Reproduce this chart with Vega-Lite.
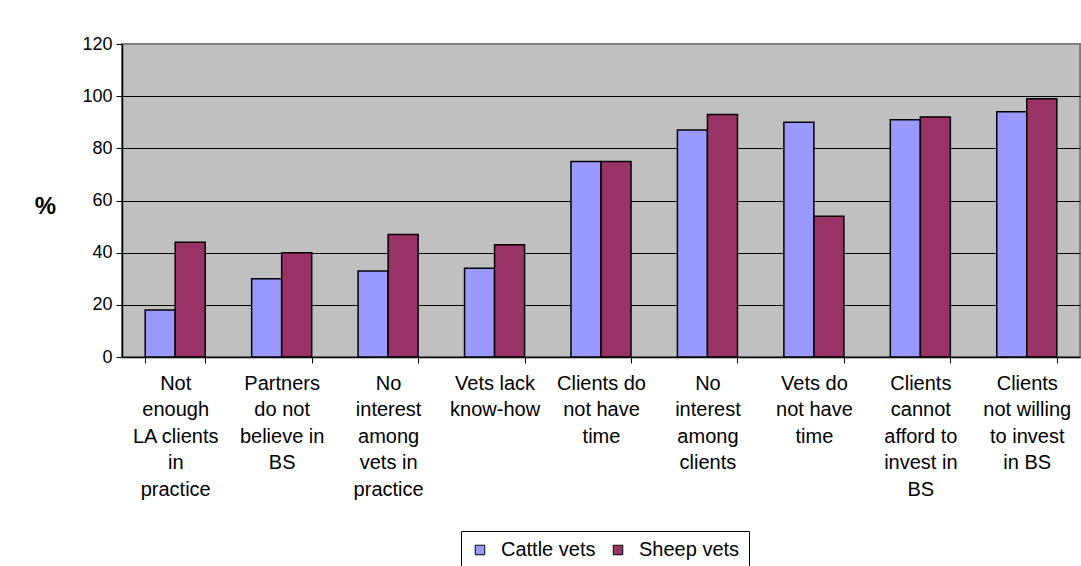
{
  "$schema": "https://vega.github.io/schema/vega-lite/v6.json",
  "width": 958,
  "height": 313,
  "autosize": {"type": "none"},
  "padding": {"left": 122, "top": 44, "right": 1, "bottom": 209},
  "background": "white",
  "data": {
    "values": [
      {"reason": "Not|enough|LA clients|in|practice", "group": "Cattle vets", "pct": 18},
      {"reason": "Not|enough|LA clients|in|practice", "group": "Sheep vets", "pct": 44},
      {"reason": "Partners|do not|believe in|BS", "group": "Cattle vets", "pct": 30},
      {"reason": "Partners|do not|believe in|BS", "group": "Sheep vets", "pct": 40},
      {"reason": "No|interest|among|vets in|practice", "group": "Cattle vets", "pct": 33},
      {"reason": "No|interest|among|vets in|practice", "group": "Sheep vets", "pct": 47},
      {"reason": "Vets lack|know-how", "group": "Cattle vets", "pct": 34},
      {"reason": "Vets lack|know-how", "group": "Sheep vets", "pct": 43},
      {"reason": "Clients do|not have|time", "group": "Cattle vets", "pct": 75},
      {"reason": "Clients do|not have|time", "group": "Sheep vets", "pct": 75},
      {"reason": "No|interest|among|clients", "group": "Cattle vets", "pct": 87},
      {"reason": "No|interest|among|clients", "group": "Sheep vets", "pct": 93},
      {"reason": "Vets do|not have|time", "group": "Cattle vets", "pct": 90},
      {"reason": "Vets do|not have|time", "group": "Sheep vets", "pct": 54},
      {"reason": "Clients|cannot|afford to|invest in|BS", "group": "Cattle vets", "pct": 91},
      {"reason": "Clients|cannot|afford to|invest in|BS", "group": "Sheep vets", "pct": 92},
      {"reason": "Clients|not willing|to invest|in BS", "group": "Cattle vets", "pct": 94},
      {"reason": "Clients|not willing|to invest|in BS", "group": "Sheep vets", "pct": 99}
    ]
  },
  "mark": {"type": "bar", "stroke": "black", "strokeWidth": 1.5},
  "encoding": {
    "x": {
      "field": "reason",
      "type": "nominal",
      "sort": null,
      "scale": {"paddingInner": 0.436, "paddingOuter": 0.218},
      "axis": {
        "title": null,
        "labelExpr": "split(datum.label, '|')",
        "labelAngle": 0,
        "labelFontSize": 20,
        "labelLineHeight": 26.5,
        "labelColor": "black",
        "labelBaseline": "top",
        "labelPadding": 10,
        "labelLimit": 0,
        "tickBand": "extent",
        "tickSize": 6,
        "tickColor": "black",
        "domainColor": "black",
        "domainWidth": 1.5
      }
    },
    "xOffset": {
      "field": "group",
      "type": "nominal",
      "sort": ["Cattle vets", "Sheep vets"],
      "scale": {"paddingInner": 0, "paddingOuter": 0}
    },
    "y": {
      "field": "pct",
      "type": "quantitative",
      "scale": {"domain": [0, 120], "nice": false},
      "axis": {
        "values": [0, 20, 40, 60, 80, 100, 120],
        "grid": true,
        "gridColor": {"condition": {"test": "datum.value == 120", "value": "#808080"}, "value": "black"},
        "gridWidth": 1,
        "tickSize": 6,
        "tickColor": "black",
        "domainColor": "black",
        "domainWidth": 1.5,
        "labelFontSize": 18,
        "labelColor": "black",
        "labelPadding": 4,
        "title": "%",
        "titleAngle": 0,
        "titleFontSize": 24,
        "titleFontWeight": "bold",
        "titleColor": "black",
        "titleX": -77,
        "titleY": 162,
        "titleAlign": "center",
        "titleBaseline": "middle"
      }
    },
    "color": {
      "field": "group",
      "type": "nominal",
      "scale": {"domain": ["Cattle vets", "Sheep vets"], "range": ["#9999FF", "#993366"]},
      "legend": {
        "title": null,
        "orient": "none",
        "direction": "horizontal",
        "legendX": 339,
        "legendY": 487,
        "padding": 9,
        "strokeColor": "black",
        "fillColor": "white",
        "labelFontSize": 20,
        "labelColor": "black",
        "labelOffset": 11,
        "columnPadding": 12,
        "symbolType": "square",
        "symbolSize": 90,
        "symbolStrokeColor": "black",
        "symbolStrokeWidth": 1
      }
    }
  },
  "config": {
    "font": "Liberation Sans",
    "view": {"fill": "#C0C0C0", "stroke": "#808080", "strokeWidth": 2}
  }
}
